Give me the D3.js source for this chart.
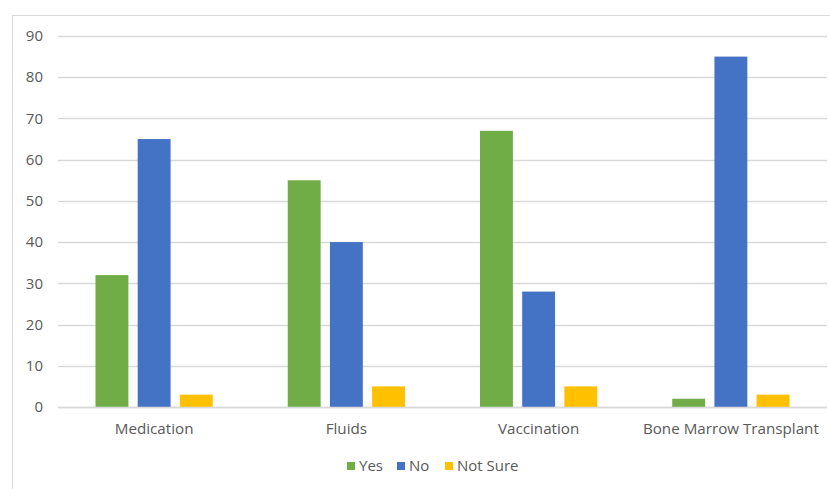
<!DOCTYPE html>
<html>
<head>
<meta charset="utf-8">
<script src="https://cdn.jsdelivr.net/npm/d3@7"></script>
<style>
  body { margin: 0; background: #fff; }
  text { font-family: "Open Sans", sans-serif; fill: #595959; }
</style>
</head>
<body>
<div id="chart"></div>
<script>
var width = 830, height = 489;

// data
var categories = ['Medication', 'Fluids', 'Vaccination', 'Bone Marrow Transplant'];
var series = ['Yes', 'No', 'Not Sure'];
var yesValues = [32, 55, 67, 2];
var noValues = [65, 40, 28, 85];
var notSureValues = [3, 5, 5, 3];
var yTicks = [0, 10, 20, 30, 40, 50, 60, 70, 80, 90];
var colors = ['#70AD47', '#4472C4', '#FFC000'];

var values = [yesValues, noValues, notSureValues];

let svg = d3.select('#chart')
  .append('svg')
  .attr('width', width)
  .attr('height', height);

// chart frame
svg.append('rect')
  .attr('x', 12.5).attr('y', 15.5)
  .attr('width', 840).attr('height', 500)
  .attr('fill', 'none')
  .attr('stroke', '#D9D9D9');

let x0 = d3.scaleBand()
  .domain(categories)
  .range([58, 827])
  .paddingInner(0.39)
  .paddingOuter(0.195);

let x1 = d3.scaleBand()
  .domain(series)
  .range([0, x0.bandwidth()])
  .paddingInner(0.22);

let yScale = d3.scaleLinear()
  .domain([0, 90])
  .range([407, 36]);

// gridlines
svg.append('g')
  .selectAll('line')
  .data(yTicks)
  .enter()
  .append('line')
  .attr('x1', 58).attr('x2', 827)
  .attr('y1', d => Math.round(yScale(d)) + 0.5)
  .attr('y2', d => Math.round(yScale(d)) + 0.5)
  .attr('stroke', '#D9D9D9')
  .attr('stroke-width', 1.3);

// y tick labels
svg.append('g')
  .selectAll('text')
  .data(yTicks)
  .enter()
  .append('text')
  .attr('x', 43)
  .attr('y', d => yScale(d))
  .attr('dy', '0.35em')
  .attr('text-anchor', 'end')
  .style('font-size', '15px')
  .text(d => d);

// bars
series.forEach((s, si) => {
  svg.append('g')
    .selectAll('rect')
    .data(values[si])
    .enter()
    .append('rect')
    .attr('x', (d, i) => x0(categories[i]) + x1(s))
    .attr('y', d => yScale(d))
    .attr('width', x1.bandwidth())
    .attr('height', d => yScale(0) - yScale(d))
    .attr('fill', colors[si]);
});

// redraw baseline on top
svg.append('line')
  .attr('x1', 58).attr('x2', 827)
  .attr('y1', Math.round(yScale(0)) + 0.5)
  .attr('y2', Math.round(yScale(0)) + 0.5)
  .attr('stroke', '#D9D9D9')
  .attr('stroke-width', 1.3);

// category labels
svg.append('g')
  .selectAll('text')
  .data(categories)
  .enter()
  .append('text')
  .attr('x', d => x0(d) + x0.bandwidth() / 2)
  .attr('y', 429)
  .attr('dy', '0.35em')
  .attr('text-anchor', 'middle')
  .style('font-size', '15.2px')
  .text(d => d);

// legend
var legendX = [347, 397, 445];
let legend = svg.append('g')
  .selectAll('g')
  .data(series)
  .enter()
  .append('g')
  .attr('transform', (d, i) => `translate(${legendX[i]}, 466)`);

legend.append('rect')
  .attr('x', 0).attr('y', -4)
  .attr('width', 8).attr('height', 8)
  .attr('fill', (d, i) => colors[i]);

legend.append('text')
  .attr('x', 12)
  .attr('y', 0)
  .attr('dy', '0.35em')
  .style('font-size', '15px')
  .text(d => d);
</script>
</body>
</html>
